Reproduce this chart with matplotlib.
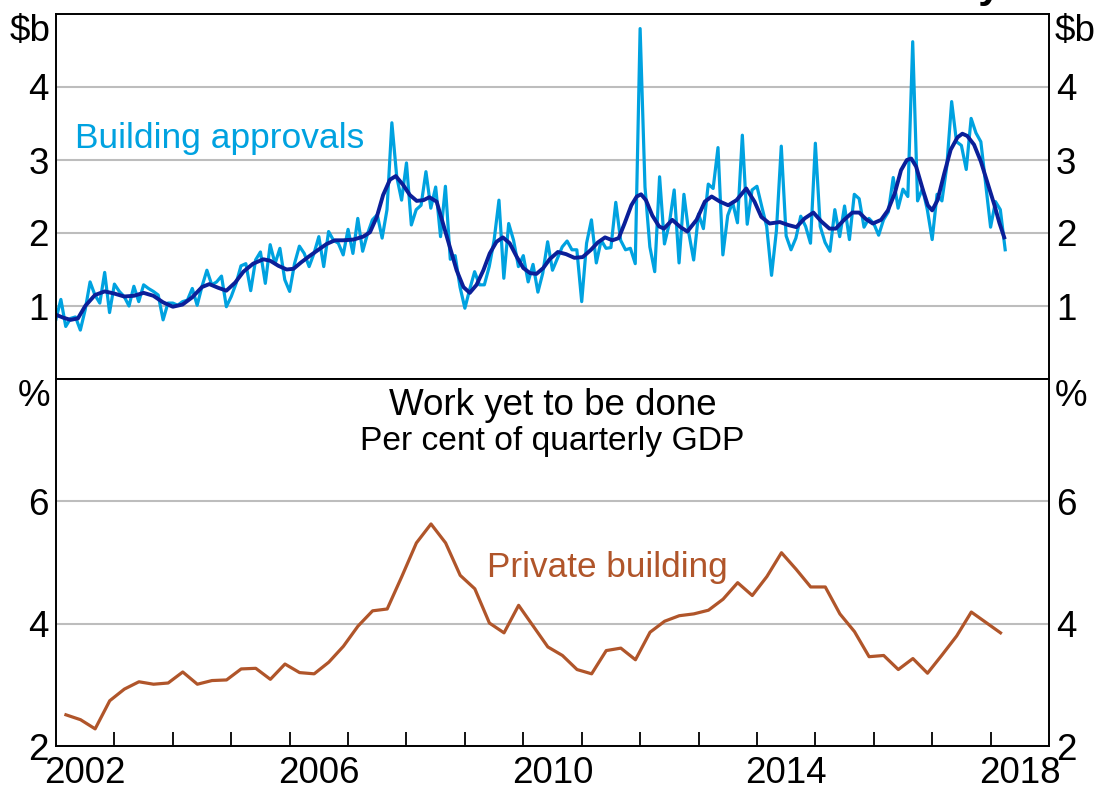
import matplotlib.pyplot as plt
import numpy as np

plt.rcParams['font.family'] = ['Liberation Sans', 'DejaVu Sans']

# monthly building approvals, $b, from Jan 2002
approvals = [
    0.82, 1.09, 0.72, 0.83, 0.85, 0.67, 0.95, 1.33, 1.15, 1.04, 1.46, 0.91,
    1.30, 1.20, 1.13, 1.00, 1.27, 1.06, 1.29, 1.24, 1.20, 1.15, 0.81, 1.04,
    1.04, 1.01, 1.06, 1.08, 1.24, 1.01, 1.27, 1.49, 1.29, 1.33, 1.41, 0.99,
    1.13, 1.31, 1.55, 1.58, 1.21, 1.63, 1.74, 1.31, 1.84, 1.58, 1.79, 1.36,
    1.20, 1.58, 1.82, 1.72, 1.54, 1.72, 1.95, 1.54, 2.02, 1.90, 1.86, 1.70,
    2.05, 1.72, 2.20, 1.75, 1.99, 2.18, 2.25, 1.93, 2.32, 3.51, 2.77, 2.45,
    2.96, 2.11, 2.32, 2.38, 2.84, 2.34, 2.63, 1.95, 2.64, 1.64, 1.69, 1.26,
    0.97, 1.23, 1.47, 1.29, 1.29, 1.54, 1.90, 2.45, 1.38, 2.13, 1.90, 1.54,
    1.69, 1.33, 1.57, 1.19, 1.45, 1.88, 1.49, 1.65, 1.81, 1.89, 1.77, 1.77,
    1.06, 1.86, 2.18, 1.59, 1.90, 1.79, 1.80, 2.42, 1.90, 1.77, 1.79, 1.58,
    4.80, 2.63, 1.81, 1.47, 2.77, 1.85, 2.13, 2.59, 1.59, 2.53, 2.00, 1.63,
    2.26, 2.06, 2.67, 2.61, 3.17, 1.70, 2.24, 2.42, 2.14, 3.34, 2.12, 2.59,
    2.64, 2.36, 2.09, 1.42, 2.03, 3.19, 1.96, 1.77, 1.93, 2.23, 2.09, 1.86,
    3.23, 2.09, 1.87, 1.75, 2.32, 1.95, 2.37, 1.91, 2.53, 2.47, 2.08, 2.20,
    2.13, 1.97, 2.18, 2.29, 2.76, 2.34, 2.60, 2.50, 4.62, 2.44, 2.61, 2.32,
    1.91, 2.53, 2.44, 2.91, 3.80, 3.25, 3.20, 2.87, 3.57, 3.37, 3.25, 2.67,
    2.08, 2.43, 2.32, 1.77,
]

# trend line, read at months since Jan 2002
trend_month = [
    0, 1.5, 3, 4.5, 6, 8, 10, 12, 14, 16, 18, 20, 22, 24, 26, 28, 30, 31.5,
    33.3, 35, 36.8, 38.5, 40.5, 42.6, 44, 45.7, 47.4, 48.8, 50.4, 52.2, 53.9,
    55.6, 57.3, 59, 61.1, 63.1, 64.5, 65.9, 67.2, 68.6, 69.8, 71.3, 72.7,
    74.1, 75.5, 76.7, 78.2, 79.5, 80.9, 82.3, 83.7, 85.0, 86.4, 87.8, 89.1,
    90.5, 91.8, 93.2, 94.6, 96.0, 97.4, 98.7, 100.1, 101.4, 103.1, 104.8,
    106.5, 108.2, 109.9, 111.3, 112.8, 114.3, 115.6, 116.8, 118.2, 119.3,
    120.2, 121.2, 122.5, 123.9, 124.9, 126.6, 128.3, 129.7, 131.6, 133.3,
    134.7, 136.4, 138.1, 139.8, 141.8, 143.5, 144.9, 146.6, 148.7, 150.4,
    152.1, 153.8, 155.6, 157.2, 158.9, 160.2, 161.9, 163.6, 165.0, 166.4,
    167.8, 169.5, 170.9, 172.3, 173.6, 174.8, 175.7, 176.7, 178.1, 179.1,
    180.0, 181.1, 182.5, 183.8, 185.2, 186.2, 187.2, 188.6, 190.0, 191.4,
    192.8, 193.8, 194.8,
]
trend_val = [
    0.88, 0.84, 0.81, 0.83, 1.00, 1.15, 1.20, 1.17, 1.13, 1.14, 1.18, 1.14,
    1.05, 0.99, 1.02, 1.12, 1.26, 1.30, 1.25, 1.21, 1.32, 1.47, 1.58, 1.64,
    1.62, 1.55, 1.50, 1.51, 1.60, 1.69, 1.77, 1.85, 1.90, 1.90, 1.91, 1.95,
    2.01, 2.22, 2.52, 2.73, 2.78, 2.66, 2.52, 2.44, 2.45, 2.49, 2.43, 2.13,
    1.81, 1.49, 1.26, 1.18, 1.29, 1.49, 1.72, 1.88, 1.94, 1.86, 1.68, 1.52,
    1.45, 1.44, 1.52, 1.64, 1.74, 1.71, 1.66, 1.67, 1.77, 1.87, 1.94, 1.90,
    1.93, 2.13, 2.38, 2.50, 2.53, 2.45, 2.24, 2.09, 2.06, 2.18, 2.08, 2.02,
    2.18, 2.43, 2.50, 2.43, 2.38, 2.45, 2.61, 2.43, 2.22, 2.13, 2.15, 2.11,
    2.08, 2.20, 2.28, 2.16, 2.06, 2.06, 2.18, 2.28, 2.28, 2.19, 2.13, 2.18,
    2.31, 2.54, 2.86, 3.00, 3.02, 2.91, 2.59, 2.38, 2.31, 2.45, 2.82, 3.14,
    3.31, 3.36, 3.33, 3.21, 2.98, 2.68, 2.38, 2.14, 1.94,
]

# quarterly private building work yet to be done, % of GDP
private_building = [
    2.51, 2.43, 2.28, 2.74, 2.93, 3.05, 3.01, 3.03, 3.21, 3.01, 3.07, 3.08,
    3.26, 3.27, 3.09, 3.34, 3.20, 3.18, 3.37, 3.63, 3.96, 4.21, 4.24, 4.77,
    5.32, 5.63, 5.32, 4.79, 4.57, 4.01, 3.85, 4.30, 3.96, 3.62, 3.48, 3.25,
    3.18, 3.56, 3.60, 3.41, 3.86, 4.04, 4.13, 4.16, 4.22, 4.40, 4.67, 4.46,
    4.77, 5.16, 4.89, 4.60, 4.60, 4.16, 3.87, 3.46, 3.48, 3.25, 3.43, 3.19,
    3.49, 3.80, 4.19, 4.02, 3.85,
]

year_labels = ['2002', '2006', '2010', '2014', '2018']

light_blue = '#00A2E0'
dark_blue = '#0B1F99'
brown = '#B0552A'
grid_grey = '#BDBDBD'
fs = 26.5

months = 2002 + np.arange(len(approvals)) / 12
trend_x = 2002 + np.array(trend_month) / 12
quarters = 2002.17 + 0.25 * np.arange(len(private_building))

fig = plt.figure(figsize=(10.97, 8.01), dpi=100)
ax_top = fig.add_axes([56 / 1097, 1 - 379 / 801, 993 / 1097, 365 / 801])
ax_bot = fig.add_axes([56 / 1097, 1 - 746 / 801, 993 / 1097, 367 / 801])

# top panel
ax_top.plot(months, approvals, color=light_blue, lw=2.3)
ax_top.plot(trend_x, trend_val, color=dark_blue, lw=2.8)
ax_top.set_ylim(0, 5)
ax_top.set_yticks([1, 2, 3, 4])
ax_top.set_xticks([])
ax_top.text(2002.33, 3.16, 'Building approvals', color=light_blue,
            fontsize=25.5, va='baseline', ha='left')

# bottom panel
ax_bot.plot(quarters, private_building, color=brown, lw=2.3)
ax_bot.set_ylim(2, 8)
ax_bot.set_yticks([2, 4, 6])
ax_bot.set_xticks(range(2003, 2019))
ax_bot.set_xticks([2002.5, 2006.5, 2010.5, 2014.5, 2018.5], labels=year_labels, minor=True)
ax_bot.tick_params(axis='x', which='major', direction='in', length=10, width=1.3,
                   labelbottom=False)
ax_bot.tick_params(axis='x', which='minor', length=0, pad=7, labelsize=fs)
ax_bot.text(0.5, 0.902, 'Work yet to be done', transform=ax_bot.transAxes,
            ha='center', va='baseline', fontsize=26.5)
ax_bot.text(0.5, 0.8065, 'Per cent of quarterly GDP', transform=ax_bot.transAxes,
            ha='center', va='baseline', fontsize=24.2)
ax_bot.text(2009.38, 4.77, 'Private building', color=brown,
            fontsize=25.3, va='baseline', ha='left')

for ax, unit in [(ax_top, r'\$b'), (ax_bot, '%')]:
    ax.set_xlim(2002, 2019)
    ax.yaxis.grid(True, color=grid_grey, lw=1.5)
    ax.set_axisbelow(True)
    ax.tick_params(axis='y', length=0, labelleft=True, labelright=True,
                   labelsize=fs, pad=5)
    for s in ax.spines.values():
        s.set_linewidth(1.4)
    ax.text(-0.006, 1.0, unit, transform=ax.transAxes, ha='right', va='top', fontsize=fs)
    ax.text(1.006, 1.0, unit, transform=ax.transAxes, ha='left', va='top', fontsize=fs)

# title sits above the visible area, only the tail shows (as in the source)
fig.text(0.914, 1.004, 'Activity', fontsize=30, fontweight='bold',
         ha='right', va='baseline')

fig.savefig('out.png', dpi=100)
